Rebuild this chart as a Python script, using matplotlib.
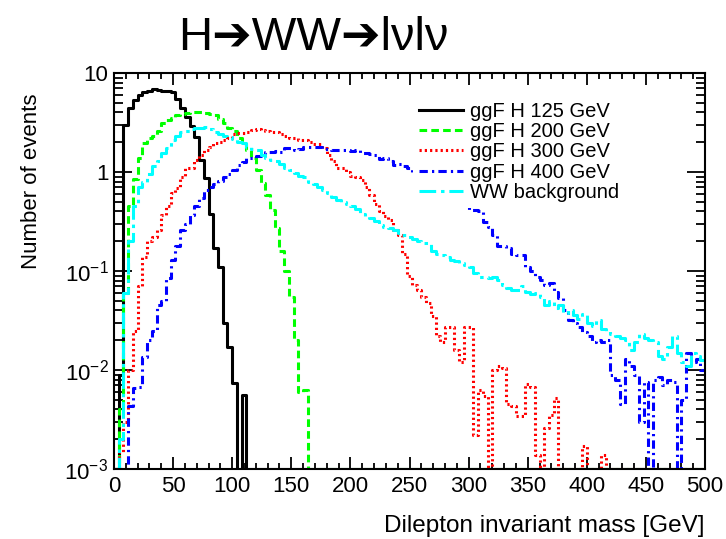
import numpy as np
import matplotlib
matplotlib.use("Agg")
import matplotlib.pyplot as plt
from matplotlib.ticker import MultipleLocator, LogLocator, NullFormatter

plt.rcParams['font.family'] = ['Liberation Sans', 'DejaVu Sans']
plt.rcParams['mathtext.fontset'] = 'custom'
plt.rcParams['mathtext.rm'] = 'Liberation Sans'
plt.rcParams['mathtext.it'] = 'Liberation Sans:italic'
plt.rcParams['lines.scale_dashes'] = False

# 4 GeV bins from 0 to 500
edges = np.arange(0, 504, 4)

h125 = [0, 0.009, 3.0, 4.4, 5.3, 6.0, 6.4, 6.6, 6.9, 6.8,
        6.6, 6.6, 6.5, 5.5, 4.4, 3.6, 2.9, 2.27, 1.32, 0.87,
        0.38, 0.17, 0.11, 0.030, 0.017, 0.0074, 0, 0.0056, 0, 0,
        0, 0, 0, 0, 0, 0, 0, 0, 0, 0,
        0, 0, 0, 0, 0, 0, 0, 0, 0, 0,
        0, 0, 0, 0, 0, 0, 0, 0, 0, 0,
        0, 0, 0, 0, 0, 0, 0, 0, 0, 0,
        0, 0, 0, 0, 0, 0, 0, 0, 0, 0,
        0, 0, 0, 0, 0, 0, 0, 0, 0, 0,
        0, 0, 0, 0, 0, 0, 0, 0, 0, 0,
        0, 0, 0, 0, 0, 0, 0, 0, 0, 0,
        0, 0, 0, 0, 0, 0, 0, 0, 0, 0,
        0, 0, 0, 0, 0]

h200 = [0, 0.004, 0.06, 0.45, 0.85, 1.4, 1.95, 2.2, 2.3, 2.6,
        3.1, 3.35, 3.5, 3.8, 3.85, 3.9, 4.0, 4.0, 4.0, 3.9,
        3.85, 3.75, 3.4, 3.1, 2.8, 2.6, 2.2, 1.9, 1.67, 1.38,
        1.05, 0.77, 0.59, 0.41, 0.27, 0.16, 0.1, 0.055, 0.02, 0.006,
        0.0063, 0, 0, 0, 0, 0, 0, 0, 0, 0,
        0, 0, 0, 0, 0, 0, 0, 0, 0, 0,
        0, 0, 0, 0, 0, 0, 0, 0, 0, 0,
        0, 0, 0, 0, 0, 0, 0, 0, 0, 0,
        0, 0, 0, 0, 0, 0, 0, 0, 0, 0,
        0, 0, 0, 0, 0, 0, 0, 0, 0, 0,
        0, 0, 0, 0, 0, 0, 0, 0, 0, 0,
        0, 0, 0, 0, 0, 0, 0, 0, 0, 0,
        0, 0, 0, 0, 0]

h300 = [0, 0.0015, 0.003, 0.01, 0.025, 0.07, 0.14, 0.20, 0.22, 0.26,
        0.37, 0.45, 0.62, 0.69, 0.9, 1.1, 1.1, 1.32, 1.5, 1.67,
        1.8, 1.95, 2.0, 2.1, 2.2, 2.4, 2.5, 2.45, 2.55, 2.65,
        2.7, 2.65, 2.6, 2.55, 2.55, 2.4, 2.3, 2.2, 2.2, 2.1,
        2.1, 2.0, 1.9, 1.9, 1.75, 1.5, 1.3, 1.1, 1.1, 1.0,
        0.92, 0.88, 0.83, 0.7, 0.58, 0.47, 0.40, 0.36, 0.33, 0.26,
        0.23, 0.15, 0.09, 0.072, 0.064, 0.055, 0.047, 0.035, 0.022, 0.019,
        0.027, 0.027, 0.016, 0.012, 0.027, 0.027, 0.0022, 0.0063, 0.0055, 0,
        0.010, 0.011, 0.0105, 0.0045, 0.0043, 0.0034, 0.0034, 0.0072, 0.0068, 0.0014,
        0, 0.0026, 0.0035, 0.0052, 0, 0, 0, 0, 0, 0.0017,
        0, 0, 0, 0.0014, 0, 0, 0, 0, 0, 0,
        0, 0, 0, 0, 0, 0, 0, 0, 0, 0,
        0, 0, 0, 0, 0]

h400 = [0, 0, 0, 0.0043, 0.0066, 0.0068, 0.0135, 0.02, 0.025, 0.045,
        0.05, 0.085, 0.13, 0.18, 0.26, 0.30, 0.37, 0.45, 0.55, 0.66,
        0.7, 0.75, 0.82, 0.89, 0.95, 1.05, 1.17, 1.25, 1.38, 1.40,
        1.45, 1.5, 1.6, 1.6, 1.62, 1.6, 1.75, 1.75, 1.67, 1.7,
        1.8, 1.78, 1.8, 1.78, 1.72, 1.7, 1.68, 1.65, 1.67, 1.65,
        1.62, 1.65, 1.55, 1.55, 1.52, 1.5, 1.35, 1.4, 1.3, 1.17,
        1.2, 1.15, 1.1, 1.0, 0.92, 0.85, 0.8, 0.75, 0.68, 0.63,
        0.6, 0.56, 0.52, 0.46, 0.46, 0.41, 0.41, 0.40, 0.31, 0.28,
        0.23, 0.18, 0.18, 0.17, 0.15, 0.145, 0.145, 0.11, 0.10, 0.087,
        0.081, 0.072, 0.075, 0.061, 0.053, 0.04, 0.032, 0.03, 0.027, 0.024,
        0.022, 0.019, 0.02, 0.019, 0.02, 0.009, 0.008, 0.0045, 0.013, 0.011,
        0.009, 0.003, 0.0075, 0, 0.008, 0.0085, 0.007, 0.008, 0.0075, 0,
        0.005, 0.015, 0.012, 0.013, 0.01]

ww = [0, 0.002, 0.06, 0.2, 0.45, 0.7, 0.8, 0.95, 1.15, 1.3,
      1.55, 1.75, 2.1, 2.3, 2.55, 2.6, 2.75, 2.8, 2.8, 2.85,
      2.75, 2.55, 2.4, 2.3, 2.25, 2.15, 2.0, 1.95, 1.8, 1.72,
      1.67, 1.5, 1.4, 1.32, 1.28, 1.2, 1.1, 1.05, 0.97, 0.92,
      0.88, 0.8, 0.75, 0.7, 0.66, 0.62, 0.56, 0.52, 0.5, 0.48,
      0.45, 0.42, 0.38, 0.36, 0.34, 0.32, 0.29, 0.28, 0.27, 0.26,
      0.24, 0.23, 0.22, 0.21, 0.2, 0.19, 0.19, 0.16, 0.15, 0.145,
      0.14, 0.13, 0.125, 0.12, 0.115, 0.11, 0.095, 0.087, 0.087, 0.085,
      0.087, 0.082, 0.072, 0.068, 0.065, 0.064, 0.07, 0.062, 0.058, 0.06,
      0.055, 0.045, 0.05, 0.042, 0.045, 0.038, 0.04, 0.036, 0.033, 0.037,
      0.03, 0.028, 0.032, 0.026, 0.025, 0.023, 0.022, 0.021, 0.02, 0.016,
      0.019, 0.023, 0.021, 0.02, 0.019, 0.014, 0.013, 0.017, 0.022, 0.015,
      0.012, 0.011, 0.015, 0.014, 0.0126]

labels = ["ggF H 125 GeV", "ggF H 200 GeV", "ggF H 300 GeV",
          "ggF H 400 GeV", "WW background"]
colors = ["black", "#00ff00", "#ff0000", "#0000ff", "#00ffff"]
styles = ["-", (0, (5.5, 3)), (0, (1.6, 2.2)), (0, (6, 3, 1.6, 3)),
          (0, (12, 3.5, 2.5, 3.5))]

fig = plt.figure(figsize=(7.26, 5.39), dpi=100)
ax = fig.add_axes([114/726, 1-469/539, 591/726, 396/539])

ymin = 1e-3
for vals, lab, col, ls in zip([h125, h200, h300, h400, ww], labels, colors, styles):
    v = np.clip(np.array(vals, dtype=float), ymin, None)
    ax.step(edges, np.append(v, v[-1]), where='post', color=col, lw=2.2,
            ls=ls, label=lab)

ax.set_xlim(0, 500)
ax.set_yscale('log')
ax.set_ylim(1e-3, 10)

ax.xaxis.set_major_locator(MultipleLocator(50))
ax.xaxis.set_minor_locator(MultipleLocator(10))
ax.set_yticks([1e-3, 1e-2, 1e-1, 1, 10])
ax.set_yticklabels(['$10^{-3}$', '$10^{-2}$', '$10^{-1}$', '1', '10'])
ax.yaxis.set_minor_locator(LogLocator(base=10, subs=np.arange(2, 10)))
ax.yaxis.set_minor_formatter(NullFormatter())

ax.tick_params(which='both', direction='in', top=True, right=True,
               labelsize=16, width=1.3)
ax.tick_params(axis='x', which='major', length=8.6, pad=5)
ax.tick_params(axis='x', which='minor', length=4.3)
ax.tick_params(axis='y', which='major', length=12.7, pad=4)
ax.tick_params(axis='y', which='minor', length=6.4)
for sp in ax.spines.values():
    sp.set_linewidth(1.5)

ax.legend(loc='upper left', bbox_to_anchor=(413/726, 1-96/539),
          bbox_transform=fig.transFigure, frameon=True, facecolor='white',
          edgecolor='none', framealpha=1, fancybox=False, fontsize=14.5,
          handlelength=2.2, handletextpad=0.33, labelspacing=0.06,
          borderpad=0.3, borderaxespad=0)

fig.text(313/726, 1-50/539, "H\u2794WW\u2794l\u03bdl\u03bd", fontsize=34,
         ha='center', va='baseline')
fig.text(32/726, 1-181/539, "Number of events", rotation=90, fontsize=16,
         ha='center', va='center')
fig.text(705/726, 1-532/539, "Dilepton invariant mass [GeV]", fontsize=17.5,
         ha='right', va='baseline')

fig.savefig('out.png', dpi=100)
